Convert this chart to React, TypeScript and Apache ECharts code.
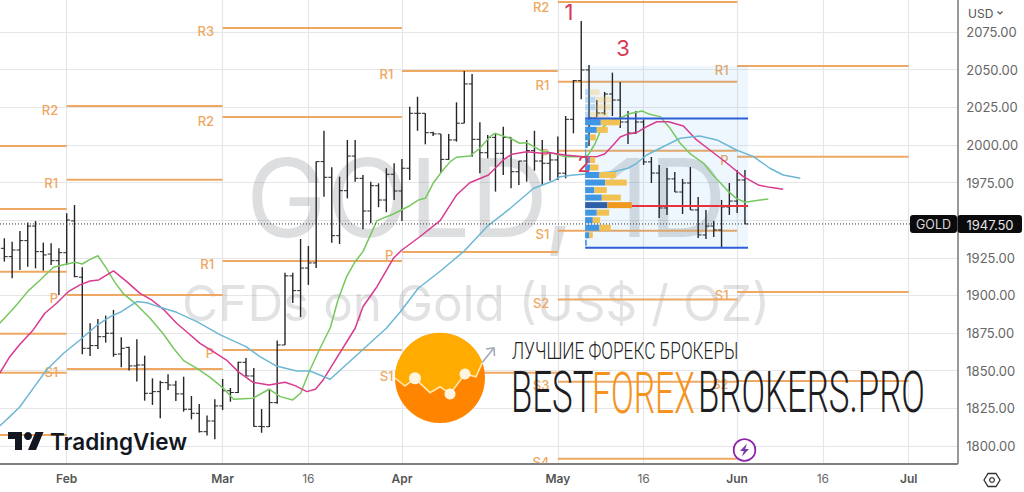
import React, { useEffect, useRef } from "react";
import * as echarts from "echarts";

const firstBar = -8;
const opens = [1931.3,1925.8,1930.2,1936.4,1946.1,1929.1,1927.5,1923.1,1928.4,1949.5,1912.1,1864.9,1866.7,1872.6,1874.9,1861.1,1865.5,1853.2,1853.8,1835,1836.1,1842.1,1840.5,1834.6,1824.4,1821.7,1809.5,1816.6,1826.6,1836.7,1835.5,1855.6,1846.5,1813,1812.8,1828.8,1867.1,1913,1903.2,1918.2,1921.6,1988.9,1978.5,1939.7,1969.6,1992.6,1977.8,1956.1,1972.9,1963.4,1980.5,1969.4,1984.5,2021,2021,2008.1,2007.3,1990.4,2003.3,2014.4,2040.5,2003.7,1994.8,2005,1994.4,2005,1982.2,1989.3,1996.2,1989.3,1987.8,1990,1981.2,2017,2042.7,2049.8,2017.9,2021.2,2033.8,2029.8,2015.2,2007.9,2015.2,1988.7,1981.3,1958.1,1977.4,1968.7,1974.7,1956.8,1940.2,1946.1,1943.5,1958.8,1962.7,1976.7];
const highs = [1938,1935.7,1942.8,1948.4,1949.5,1935.1,1934.6,1931.3,1954.6,1960.1,1918.7,1881.5,1884.4,1886.6,1890.4,1872.2,1866,1870.9,1860,1844.9,1843.4,1847.6,1843.4,1846,1833.2,1827.9,1820.2,1831,1844.5,1838.5,1856,1858.5,1851.8,1824.6,1837.9,1870,1915,1915,1937.5,1932.9,1988.9,2009.4,1985.1,1978.9,2003.3,2003.3,1980,1975.6,1974.5,1984.5,1987.8,1990.6,2025.4,2032,2021,2008.8,2007.3,2007.3,2028.3,2049.1,2047.1,2015,2006.6,2007.3,2012.1,2005,1989.3,2003.3,2009.4,2003.3,1995.3,2005.6,2019.2,2043.1,2082.3,2053.1,2029.8,2035.2,2048,2041.8,2022.5,2022.5,2017,1992,1986.7,1984.7,1982,1977.4,1985.3,1965.4,1956.8,1949.5,1963.4,1974.7,1983.3,1983.3];
const lows = [1922.5,1911.4,1916.9,1919.1,1918,1916.5,1920.3,1900.3,1920.3,1912.1,1860.9,1859.8,1864.5,1868.7,1859.3,1852.3,1850.1,1842.8,1830.1,1827.3,1818.4,1837.2,1829.9,1822.8,1817.7,1808.9,1806.9,1804.5,1823.9,1829.4,1835.2,1846.5,1812.8,1808.8,1812.6,1828,1867.1,1895,1885.7,1907,1918.2,1965.6,1935,1934.2,1964.5,1975.6,1944,1948,1958.6,1955.3,1963.4,1949.5,1976.7,2009.4,2000.4,2005.9,1981.5,1990,2002.2,2014.4,1992.2,1981.2,1991.1,1969,1980,1971.2,1973.4,1975.6,1982.9,1973.4,1976.2,1976.7,1977.8,2007.7,2030.3,1999.3,2018.6,2019.9,2019.2,2011.2,2000.6,2007.3,1986.7,1974.7,1951.5,1953.5,1968.7,1954.1,1956.8,1938.2,1937.5,1938.8,1932.2,1953.5,1954.8,1947.5];
const closes = [1925.8,1930.2,1936.4,1946.1,1929.1,1926.9,1923.1,1928.4,1950.1,1912.5,1864.9,1866.7,1872.6,1874.9,1860.9,1864.9,1853.2,1853.8,1835,1836.1,1842.1,1840.5,1834.6,1824.4,1821.7,1809.5,1816.6,1826.6,1836.7,1835.5,1855.6,1846.5,1813,1812.8,1828.8,1867.1,1913,1903.2,1918.2,1921.6,1988.9,1978.5,1939.7,1969.6,1992.6,1977.8,1956.1,1972.9,1963.4,1980.5,1969.4,1984.5,2021,2021,2008.1,2007.3,1990.4,2003.3,2014.4,2040.5,2003.7,1994.8,2005,1994.4,2005,1982.2,1989.3,1996.2,1989.3,1987.8,1990,1981.2,2017,2042.7,2049.8,2017.9,2021.2,2033.8,2029.8,2015.2,2007.9,2015.2,1988.7,1981.3,1958.1,1977.4,1968.7,1974.7,1956.8,1940.2,1946.1,1943.5,1958.8,1962.7,1976.7,1947.5];

const greenMA = [[-8.6,1881.5],[-6.8,1891.5],[-4.9,1903.2],[-3.4,1910.3],[-1.7,1918.7],[0,1920.9],[1.1,1922],[2,1920.9],[3,1924],[4,1926.4],[5.1,1918],[6.2,1908.5],[7.3,1901],[9,1893.7],[10.7,1884.8],[12.4,1874.4],[13.7,1864.9],[15,1856.7],[16.7,1851.6],[18.4,1845.6],[20.1,1838.3],[21.4,1831],[23.9,1831.7],[25.95,1837.7],[27.4,1832.8],[29,1830.6],[30,1835],[31.2,1850.5],[32.5,1864.9],[33.8,1878.4],[34.8,1897],[35.9,1912.5],[37,1922.4],[38,1929.1],[39.8,1949.7],[41.9,1954.1],[44,1959.6],[45.1,1963.4],[46,1964.5],[47,1974.5],[48.1,1982.2],[49.2,1988.9],[50,1991.8],[51.7,1992.6],[53,1997.8],[54.3,2005.5],[54.9,2007.7],[56.9,2004.4],[58.1,2001.1],[59,2001.5],[60.9,1996],[61.6,1995.5],[63.9,1992.2],[66.3,1992.2],[66.9,1993.3],[67.8,2001.1],[68.6,2011],[69.9,2016.6],[71,2017.7],[72,2020.5],[73.8,2022.5],[74.8,2020.3],[76.1,2018.8],[77.4,2011],[78.7,2001.1],[80,1994],[81.7,1987.8],[82.9,1980],[84.7,1970],[85.9,1964.5],[87,1961.9],[88.5,1963],[90,1964.1]];
const pinkMA = [[-8.6,1848.3],[-7.3,1859.3],[-6,1867.6],[-4.3,1877.1],[-2.8,1888.2],[-1.3,1894.8],[0.2,1902.5],[1.7,1907],[3,1909.6],[4.1,1910.3],[6,1916.3],[7.7,1909.2],[9.4,1901.4],[10.9,1897],[12.4,1890.8],[14.1,1881.5],[15.6,1874.9],[17.1,1868.2],[18.8,1862.7],[20.5,1857.1],[22,1849.4],[23.9,1842.3],[25.95,1840.5],[28,1842.3],[29.3,1840.1],[30.8,1836.1],[31.9,1837.7],[32.9,1843.9],[33.8,1851.6],[37,1878.2],[38,1892.5],[39.8,1905.8],[41.9,1924.7],[43,1930.2],[45.3,1939],[47.9,1949.7],[50,1966.7],[51.7,1974.9],[54.1,1980],[56,1990],[57.1,1993.8],[59,1995.5],[60.9,1994.4],[62,1994.8],[63.9,1993.3],[66.3,1992.2],[68,1992.2],[69,1994],[70.1,2000],[71,2005.3],[72,2007.3],[73.1,2008.1],[74.4,2012.1],[75.7,2015.4],[77.2,2015.4],[79.1,2012.6],[80.8,2003.3],[82.5,1996.6],[84.7,1987.8],[86.8,1978.9],[88.7,1973.4],[90.2,1971.8],[91.9,1970.5]];
const blueMA = [[-8.6,1813.3],[-7.3,1819.5],[-6,1826.1],[-4.3,1838.3],[-2.6,1850.5],[-0.4,1861.6],[1.7,1870.4],[3.8,1879.9],[5.6,1885.9],[7,1889.2],[9,1895.9],[10.3,1895.2],[12,1892.1],[14.1,1888.8],[16.7,1882.6],[19.7,1873.8],[23,1866],[24.8,1859.3],[26.9,1853.1],[29.5,1849.8],[31.2,1849.8],[33.8,1844.3],[41,1878.2],[42.8,1889.2],[45.1,1904.8],[48.1,1916.9],[50.9,1929.1],[53.9,1945.7],[56.9,1957.9],[59.9,1971.2],[62.4,1976],[63.3,1978.9],[65,1980],[66.7,1980.7],[70.1,1982.2],[72,1984.5],[73.1,1987.8],[74.4,1993.3],[76.5,1998.8],[78.7,2004.4],[81.2,2005.9],[83.4,2003.3],[85.9,1996.6],[88.1,1992.2],[90.2,1984.5],[91.9,1980],[94.1,1977.8]];

// [from bar, to bar, price, label]
const pivots: [number, number, number, string][] = [
  [-8.56,0,1999.3,""],[-8.56,0,1957.4,""],[-8.56,0,1915.8,""],[-8.56,0,1874.6,""],[-8.56,0,1848.7,""],[-8.56,0,1807.3,""],
  [0,20,2025.8,"R2"],[0,20,1976.9,"R1"],[0,20,1900.3,"P"],[0,20,1851.2,"S1"],
  [20,43,2077.7,"R3"],[20,43,2018.5,"R2"],[20,43,1922.9,"R1"],[20,43,1863.8,"P"],
  [43,63,2049.1,"R1"],[43,63,1928.9,"P"],[43,63,1848.7,"S1"],
  [63,86,2094.9,"R2"],[63,86,2042,"R1"],[63,86,1996.2,"P"],[63,86,1943,"S1"],[63,86,1897.3,"S2"],[63,86,1842.7,"S3"],[63,86,1791.6,"S4"],
  [86,108,2052.4,"R1"],[86,108,1992.2,"P"],[86,108,1902.3,"S1"],[86,108,1843.2,"S2"],
];

const priceTicks = [2075,2050,2025,2000,1975,1950,1925,1900,1875,1850,1825,1800];
const dateTicks = [0,20,31,43,63,74,86,97,108];
const dateLabels = ["Feb","Mar","16","Apr","May","16","Jun","16","Jul"];
const lastPrice = 1947.5;

const vpPrices = [2035,2030,2025,2020,2015,2010,2005,2000,1995,1990,1985,1980,1975,1970,1965,1960,1955,1950,1945,1940,1935];
const vpBuy = [15,30,30,15,47,35,15,8,3,15,15,43,60,28,50,67,35,23,43,13,5];
const vpSell = [28,50,48,55,58,33,17,0,0,15,25,50,65,37,57,73,37,22,34,10,0];
const vpFrom = 66.5, vpTo = 87.4;
const vpHigh = 2017.6, vpLow = 1931.7, vpPoc = 1959.4, vpBoxTop = 2052.4;
const vpPaleAbove = 2018;
const vpPocRow = 1960;
const volumeToBars = 0.04276;

const PIVOT = "#eea862";
const FONT = "Inter, Roboto, sans-serif";

const topPath = "M395 378 L405 386 L415 378.3 L430 392.7 L440 386.7 L450 394 L465 374 L476 376.7 L482.3 362.5 A45 45 0 0 0 395 378 Z";
echarts.graphic.registerShape("bfbTop", echarts.graphic.extendPath(topPath, {}) as any);
const tvPath = "M14 22H7V11H0V4h14v18zM28 22h-8l7.5-18h8L28 22z";
echarts.graphic.registerShape("tvMark", echarts.graphic.extendPath(tvPath, {}) as any);

function txt(text: string, x: number, y: number, size: number, fill: string, z: number, extra: any = {}, styleExtra: any = {}) {
  return {
    type: "text", x, y, z, silent: true, ...extra,
    style: {
      text, fill, font: `${styleExtra.weight || 400} ${size}px ${styleExtra.family || FONT}`,
      align: styleExtra.align || "left", verticalAlign: "middle",
      textAlign: styleExtra.align || "left", textVerticalAlign: "middle",
    },
  };
}

export default function App() {
  const ref = useRef<HTMLDivElement>(null);
  useEffect(() => {
    document.body.style.margin = "0";
    const chart = echarts.init(ref.current!, undefined, { renderer: "svg" });
    const barRows = opens.map((o, i) => [firstBar + i, o, highs[i], lows[i], closes[i]]);
    const vpRows = vpPrices.map((p, i) => [p, vpBuy[i], vpSell[i]]);

    const overlay: any[] = [
      // watermark
      txt("GOLD, 1D", 246, 197, 108, "rgba(110,112,122,0.23)", 1),
      txt("CFDs on Gold (US$ / OZ)", 182, 303, 49.5, "rgba(110,112,122,0.2)", 1),
      // annotations
      txt("1", 569, 12, 22, "#d83a56", 100, {}, { align: "center" }),
      txt("2", 584, 164, 22, "#d83a56", 100, {}, { align: "center" }),
      txt("3", 623, 48, 22, "#d83a56", 100, {}, { align: "center" }),
      // price tag
      { type: "rect", z: 100, shape: { x: 910, y: 215, width: 47, height: 18, r: 3 }, style: { fill: "#0b0b0d" } },
      { type: "rect", z: 100, shape: { x: 957.5, y: 215, width: 64.5, height: 18, r: 3 }, style: { fill: "#0b0b0d" } },
      txt("GOLD", 933.5, 224.5, 12.5, "#d8d8d8", 101, {}, { align: "center" }),
      txt(lastPrice.toFixed(2), 990, 224.5, 13, "#e4e4e4", 101, {}, { align: "center" }),
      // currency
      txt("USD", 968, 13, 12, "#555", 100),
      { type: "polyline", z: 100, shape: { points: [[997.5, 11.5], [1000, 14], [1002.5, 11.5]] }, style: { stroke: "#555", lineWidth: 1.2, fill: "none" } },
      // settings icon
      { type: "polygon", z: 100, shape: { points: [[984, 480], [988, 473.5], [996, 473.5], [1000, 480], [996, 486.5], [988, 486.5]] }, style: { stroke: "#333", lineWidth: 1.3, fill: "none" } },
      { type: "circle", z: 100, shape: { cx: 992, cy: 480, r: 2.4 }, style: { stroke: "#333", lineWidth: 1.2, fill: "none" } },
      // lightning marker
      { type: "circle", z: 100, shape: { cx: 744.5, cy: 450, r: 10.8 }, style: { stroke: "#8e24aa", lineWidth: 1.8, fill: "#ffffff" } },
      { type: "polygon", z: 101, shape: { points: [[747, 443.5], [740, 451], [743.8, 451], [742, 456.5], [749, 449], [745.2, 449]] }, style: { fill: "#7b3aa8" } },
      // TradingView mark
      { type: "tvMark", x: 8, y: 428, z: 100, style: { fill: "#131722" } },
      { type: "circle", z: 100, shape: { cx: 28, cy: 436, r: 4 }, style: { fill: "#131722" } },
      txt("TradingView", 50, 441, 22.5, "#131722", 100, {}, { weight: 600 }),
      // promo logo
      { type: "circle", z: 110, shape: { cx: 440, cy: 378, r: 45 }, style: { fill: "#ff8500" } },
      { type: "bfbTop", x: 0, y: 0, z: 111, style: { fill: "#ffab00" } },
      { type: "polyline", z: 112, shape: { points: [[395, 378], [405, 386], [415, 378.3], [430, 392.7], [440, 386.7], [450, 394], [465, 374], [476, 376.7], [482.3, 362.5]] }, style: { stroke: "#ffe9b0", lineWidth: 1.6, fill: "none" } },
      { type: "circle", z: 113, shape: { cx: 415, cy: 378.3, r: 6 }, style: { fill: "#fff4dd" } },
      { type: "circle", z: 113, shape: { cx: 450, cy: 394, r: 5.5 }, style: { fill: "#fff4dd" } },
      { type: "circle", z: 113, shape: { cx: 465, cy: 374, r: 5.5 }, style: { fill: "#fff4dd" } },
      { type: "polyline", z: 112, shape: { points: [[482.3, 362.5], [493, 349]] }, style: { stroke: "#a3abb8", lineWidth: 1.6, fill: "none" } },
      { type: "polyline", z: 112, shape: { points: [[486, 349], [494, 348], [494.5, 356]] }, style: { stroke: "#a3abb8", lineWidth: 1.6, fill: "none" } },
      // promo text
      txt("ЛУЧШИЕ ФОРЕКС БРОКЕРЫ", 512, 351, 24, "#1f1f24", 112, { scaleX: 0.718 }, { family: "Roboto", weight: 300 }),
      txt("BEST", 511, 393, 58, "#1d1d22", 112, { scaleX: 0.6 }, { family: "Roboto", weight: 300 }),
      txt("FOREX", 592, 393, 58, "#f4931e", 112, { scaleX: 0.58 }, { family: "Roboto", weight: 300 }),
      txt("BROKERS.PRO", 698, 393, 58, "#1d1d22", 112, { scaleX: 0.6 }, { family: "Roboto", weight: 300 }),
    ];

    chart.setOption({
      animation: false,
      backgroundColor: "#ffffff",
      grid: { left: 0, right: 66.7, top: 0, bottom: 28.7 },
      xAxis: {
        type: "value",
        min: -8.556,
        max: 114.24,
        axisLine: { show: true, onZero: false, lineStyle: { color: "#555", width: 1.5 } },
        axisTick: { show: false, customValues: dateTicks },
        splitLine: { show: true, lineStyle: { color: "#e6e6e8", width: 1.2 } },
        axisLabel: {
          customValues: dateTicks,
          margin: 9,
          formatter: (v: number) => {
            const l = dateLabels[dateTicks.indexOf(v)] ?? "";
            return l === "16" ? `{d|${l}}` : `{m|${l}}`;
          },
          rich: {
            m: { fontFamily: FONT, fontSize: 12, fontWeight: 600, color: "#555" },
            d: { fontFamily: FONT, fontSize: 12, fontWeight: 400, color: "#666" },
          },
        },
      },
      yAxis: {
        type: "value",
        position: "right",
        min: 1788.5,
        max: 2096.26,
        axisLine: { show: true, onZero: false, lineStyle: { color: "#777", width: 1.5 } },
        axisTick: { show: false, customValues: priceTicks },
        splitLine: { show: true, lineStyle: { color: "#e6e6e8", width: 1.2 } },
        axisLabel: {
          customValues: priceTicks,
          margin: 9,
          fontFamily: FONT,
          fontSize: 13,
          color: "#666",
          formatter: (v: number) => v.toFixed(2),
        },
      },
      graphic: { elements: overlay },
      series: [
        {
          type: "custom",
          z: 2,
          clip: true,
          silent: true,
          data: pivots.map((p) => [p[0], p[1], p[2], p[3]]),
          encode: { x: [0, 1], y: 2 },
          renderItem: (_: any, api: any) => {
            const a = api.coord([api.value(0), api.value(2)]);
            const b = api.coord([api.value(1), api.value(2)]);
            const label = api.value(3);
            const children: any[] = [
              { type: "line", shape: { x1: a[0], y1: a[1], x2: b[0], y2: a[1] }, style: { stroke: PIVOT, lineWidth: 2 } },
            ];
            if (label) {
              children.push({
                type: "text",
                style: { x: a[0] - 8.5, y: Math.max(a[1] + 3.5, 7), text: label, fill: PIVOT, font: `500 13px ${FONT}`, align: "right", verticalAlign: "middle" },
              });
            }
            return { type: "group", children };
          },
        },
        {
          type: "custom",
          z: 3,
          silent: true,
          data: [[vpFrom, vpTo, vpBoxTop, vpLow]],
          encode: { x: [0, 1], y: [2, 3] },
          renderItem: (_: any, api: any) => {
            const a = api.coord([api.value(0), api.value(2)]);
            const b = api.coord([api.value(1), api.value(3)]);
            return { type: "rect", shape: { x: a[0], y: a[1], width: b[0] - a[0], height: b[1] - a[1] }, style: { fill: "rgba(33,150,243,0.08)" } };
          },
        },
        {
          type: "custom",
          z: 4,
          silent: true,
          data: barRows,
          encode: { x: 0, y: [1, 2, 3, 4] },
          renderItem: (_: any, api: any) => {
            const i = api.value(0);
            const h = api.coord([i, api.value(2)]);
            const l = api.coord([i, api.value(3)]);
            const o = api.coord([i, api.value(1)]);
            const c = api.coord([i, api.value(4)]);
            const st = { stroke: "#26262a", lineWidth: 1.4 };
            const st2 = { stroke: "#26262a", lineWidth: 1 };
            return {
              type: "group",
              children: [
                { type: "line", shape: { x1: h[0], y1: h[1], x2: l[0], y2: l[1] }, style: st },
                { type: "line", shape: { x1: o[0] - 3.4, y1: o[1], x2: o[0], y2: o[1] }, style: st2 },
                { type: "line", shape: { x1: c[0], y1: c[1], x2: c[0] + 3.4, y2: c[1] }, style: st2 },
              ],
            };
          },
        },
        { type: "line", z: 5, silent: true, showSymbol: false, data: greenMA, lineStyle: { color: "#77c85f", width: 1.5 } },
        { type: "line", z: 5, silent: true, showSymbol: false, data: pinkMA, lineStyle: { color: "#d83a90", width: 1.5 } },
        { type: "line", z: 5, silent: true, showSymbol: false, data: blueMA, lineStyle: { color: "#6db7d6", width: 1.5 } },
        {
          type: "custom",
          z: 6,
          silent: true,
          data: vpRows,
          encode: { y: 0 },
          renderItem: (_: any, api: any) => {
            const p = api.value(0);
            const pale = p > vpPaleAbove;
            const poc = p === vpPocRow;
            const s = api.coord([vpFrom, p + 2]);
            const e = api.coord([vpFrom, p - 2]);
            const m = api.coord([vpFrom + api.value(1) * volumeToBars, p]);
            const f = api.coord([vpFrom + (api.value(1) + api.value(2)) * volumeToBars, p]);
            const h = e[1] - s[1];
            return {
              type: "group",
              children: [
                { type: "rect", shape: { x: s[0], y: s[1], width: m[0] - s[0], height: h }, style: { fill: poc ? "#2f5fa8" : "#3f97e3", opacity: pale ? 0.3 : 1 } },
                { type: "rect", shape: { x: m[0], y: s[1], width: f[0] - m[0], height: h }, style: { fill: poc ? "#f0991e" : "#f2c153", opacity: pale ? 0.3 : 1 } },
              ],
            };
          },
        },
        {
          type: "line", z: 7, silent: true, showSymbol: false,
          data: [[vpFrom, vpHigh], [vpTo, vpHigh]],
          lineStyle: { color: "#2d5fd6", width: 2 },
        },
        {
          type: "line", z: 7, silent: true, showSymbol: false,
          data: [[vpFrom, vpLow], [vpTo, vpLow]],
          lineStyle: { color: "#2d5fd6", width: 2 },
        },
        {
          type: "line", z: 7, silent: true, showSymbol: false,
          data: [[vpFrom + 6, vpPoc], [vpTo, vpPoc]],
          lineStyle: { color: "#e8323c", width: 2 },
        },
        {
          type: "line", z: 8, silent: true, showSymbol: false,
          data: [[-8.556, lastPrice], [114.24, lastPrice]],
          lineStyle: { color: "#333", width: 1, type: [1, 2] },
        },
      ],
    });
    return () => chart.dispose();
  }, []);
  return <div ref={ref} style={{ width: 1024, height: 492 }} />;
}
